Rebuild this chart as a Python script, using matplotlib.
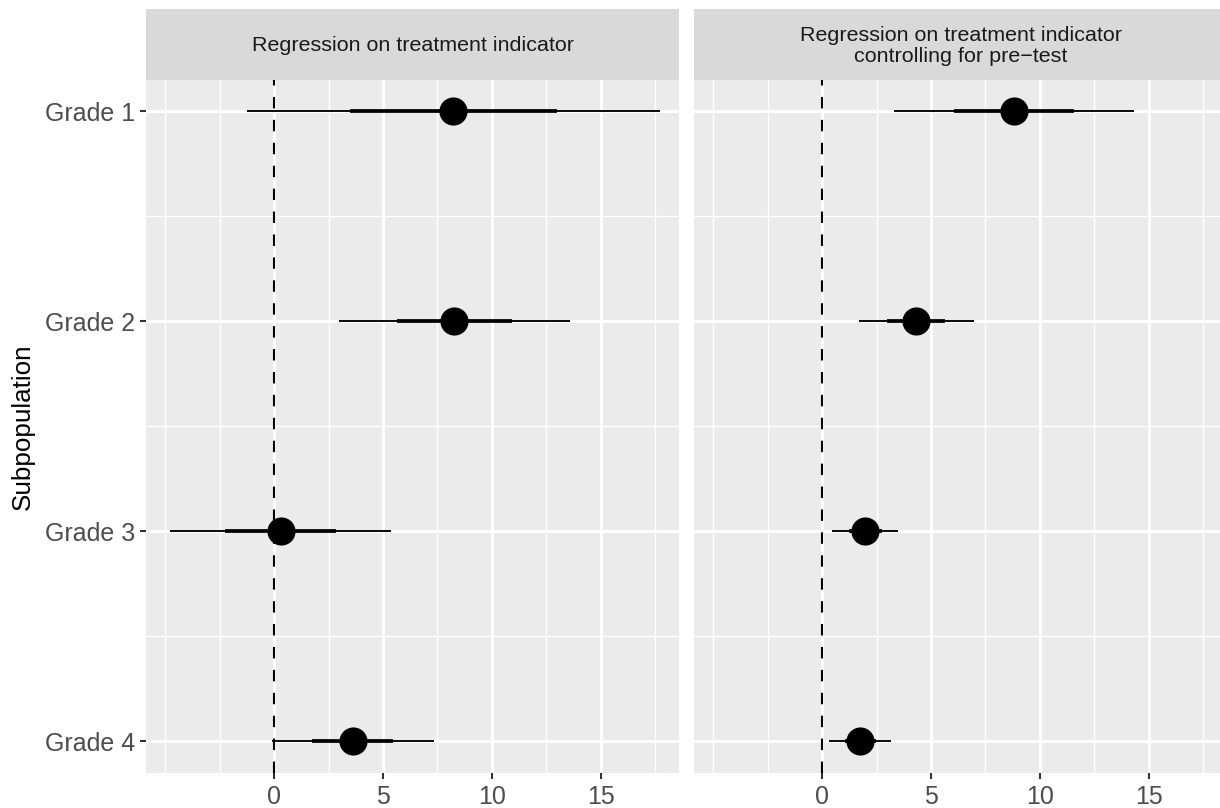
import matplotlib
matplotlib.use("Agg")
import matplotlib.pyplot as plt
from matplotlib.patches import Rectangle
import numpy as np

plt.rcParams['font.family'] = ['Liberation Sans', 'DejaVu Sans']

grades = ["Grade 1", "Grade 2", "Grade 3", "Grade 4"]
panel_titles = ["Regression on treatment indicator",
                "Regression on treatment indicator\ncontrolling for pre\u2212test"]

# estimates and standard errors
est_treat = [8.23, 8.27, 0.29, 3.61]
se_treat = [4.75, 2.65, 2.53, 1.86]
est_pre = [8.81, 4.33, 1.97, 1.74]
se_pre = [2.75, 1.33, 0.76, 0.71]

x_major = [0, 5, 10, 15]
x_minor = [-5, -2.5, 2.5, 7.5, 12.5, 17.5]

W, H = 1220, 808
DPI = 150
fig = plt.figure(figsize=(W / DPI, H / DPI), dpi=DPI)
fig.patch.set_facecolor("white")

panel_w = 533
panel_top, panel_bot = 80, 773
strip_top = 9
lefts = [146, 694]

series = [(est_treat, se_treat), (est_pre, se_pre)]
ypos = np.arange(1, len(grades) + 1)

for i, (left, (est, se)) in enumerate(zip(lefts, series)):
    ax = fig.add_axes([left / W, (H - panel_bot) / H, panel_w / W,
                       (panel_bot - panel_top) / H])
    ax.set_facecolor("#EBEBEB")
    for s in ax.spines.values():
        s.set_visible(False)
    ax.set_xlim(-5.89, 18.6)
    ax.set_ylim(4.15, 0.85)
    # grid
    for xm in x_minor:
        ax.axvline(xm, color="white", lw=0.7, zorder=0.5)
    for yv in [1.5, 2.5, 3.5]:
        ax.axhline(yv, color="white", lw=0.7, zorder=0.5)
    for xm in x_major:
        ax.axvline(xm, color="white", lw=1.4, zorder=0.6)
    for yv in ypos:
        ax.axhline(yv, color="white", lw=1.4, zorder=0.6)
    # zero line
    ax.axvline(0, color="black", lw=1.0, ls=(0, (5.5, 5.5)), zorder=1)
    est_a = np.array(est)
    se_a = np.array(se)
    ax.hlines(ypos, est_a - 2 * se_a, est_a + 2 * se_a, color="black",
              lw=0.9, zorder=2)
    ax.hlines(ypos, est_a - se_a, est_a + se_a, color="black",
              lw=1.8, zorder=3)
    ax.plot(est_a, ypos, "o", color="black", ms=12.5, zorder=4)

    ax.set_xticks(x_major)
    ax.set_xticklabels([str(v) for v in x_major])
    ax.tick_params(axis="x", length=3, width=1.0, color="#333333",
                   labelsize=12, labelcolor="#4D4D4D", pad=3)
    if i == 0:
        ax.set_yticks(ypos)
        ax.set_yticklabels(grades)
        ax.tick_params(axis="y", length=3, width=1.0, color="#333333",
                       labelsize=12, labelcolor="#4D4D4D", pad=2)
        ax.set_ylabel("Subpopulation", fontsize=12.5, color="black",
                      labelpad=5)
    else:
        ax.set_yticks([])
    # strip
    strip_h = (panel_top - strip_top) / (panel_bot - panel_top)
    ax.add_patch(Rectangle((0, 1), 1, strip_h, transform=ax.transAxes,
                           facecolor="#D9D9D9", edgecolor="none",
                           clip_on=False, zorder=0))
    ax.text(0.5, 1 + strip_h / 2 - 0.002, panel_titles[i],
            transform=ax.transAxes, ha="center", va="center",
            fontsize=10.3, color="#1A1A1A", linespacing=1.15)

fig.savefig("out.png", dpi=DPI, facecolor="white")
